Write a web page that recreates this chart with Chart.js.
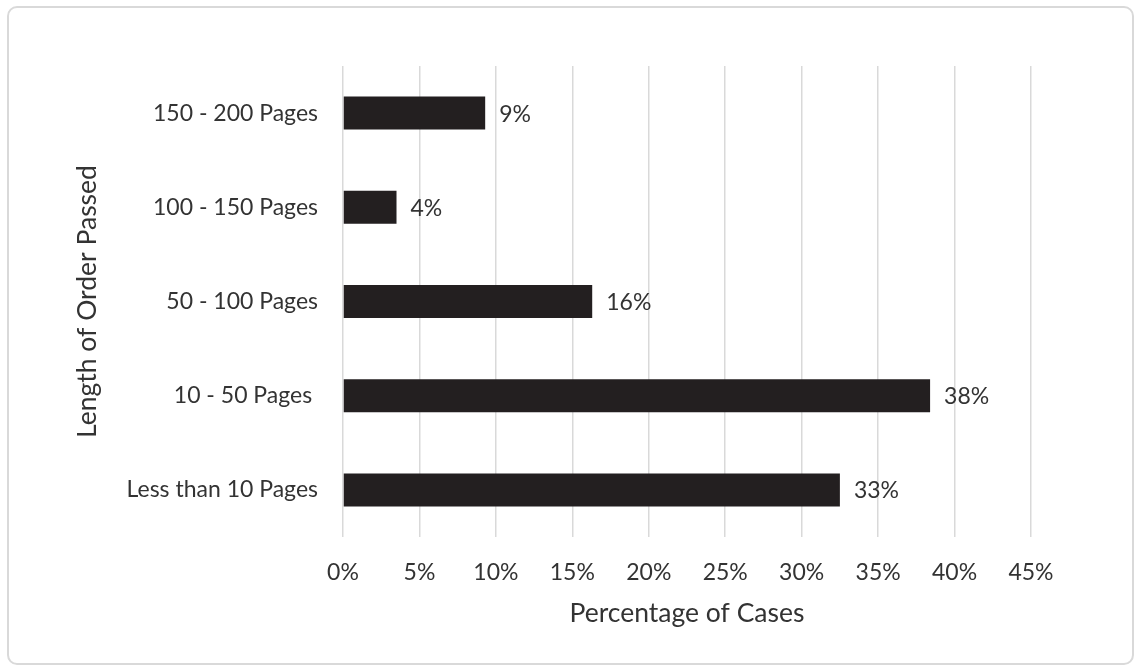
<!DOCTYPE html>
<html>
<head>
<meta charset="utf-8">
<script src="https://cdn.jsdelivr.net/npm/chart.js@4"></script>
<style>
  html, body { margin: 0; padding: 0; background: #fff; }
  #wrap { position: relative; width: 1140px; height: 671px; }
  #frame {
    position: absolute; left: 7px; top: 6px; width: 1123px; height: 655px;
    border: 2px solid #d9d9d9; border-radius: 10px; pointer-events: none;
  }
  canvas { position: absolute; left: 0; top: 0; }
</style>
</head>
<body>
<div id="wrap">
  <canvas id="chart" width="1140" height="671"></canvas>
  <div id="frame"></div>
</div>
<script>
const categories = ['150 - 200 Pages', '100 - 150 Pages', '50 - 100 Pages', '10 - 50 Pages ', 'Less than 10 Pages'];
const shares = [9.3, 3.5, 16.3, 38.4, 32.5];
const xTicks = [0, 5, 10, 15, 20, 25, 30, 35, 40, 45];

const textColor = '#333333';
const fontFamily = 'Lato, "Open Sans", sans-serif';

// value labels to the right of each bar
const barLabels = {
  id: 'barLabels',
  afterDatasetsDraw(chart) {
    const ctx = chart.ctx;
    const meta = chart.getDatasetMeta(0);
    ctx.save();
    ctx.font = '23px ' + fontFamily;
    ctx.fillStyle = textColor;
    ctx.textAlign = 'left';
    ctx.textBaseline = 'middle';
    meta.data.forEach((bar, i) => {
      ctx.fillText(Math.round(shares[i]) + '%', bar.x + 14, bar.y + 1);
    });
    ctx.restore();
  }
};

new Chart(document.getElementById('chart').getContext('2d'), {
  type: 'bar',
  data: {
    labels: categories,
    datasets: [{
      data: shares,
      backgroundColor: '#231f20',
      barPercentage: 0.35,
      categoryPercentage: 1
    }]
  },
  options: {
    indexAxis: 'y',
    responsive: false,
    animation: false,
    layout: { padding: { top: 66, right: 109, bottom: 0, left: 0 } },
    plugins: { legend: { display: false }, tooltip: { enabled: false } },
    scales: {
      x: {
        min: 0,
        max: 45,
        afterFit: (scale) => { scale.height = 134; },
        afterBuildTicks: (scale) => { scale.ticks = xTicks.map(v => ({ value: v })); },
        grid: { color: '#d9d9d9', lineWidth: 1.5, drawTicks: false },
        border: { display: false },
        ticks: {
          padding: 22,
          color: textColor,
          font: { family: fontFamily, size: 23 },
          callback: (v) => v + '%'
        },
        title: {
          display: true,
          text: 'Percentage of Cases',
          color: textColor,
          font: { family: fontFamily, size: 26.5 },
          padding: { top: 0, bottom: 42 }
        }
      },
      y: {
        afterFit: (scale) => { scale.width = 343; },
        grid: { display: false, drawTicks: false },
        border: { display: false },
        ticks: {
          padding: 25,
          color: textColor,
          font: { family: fontFamily, size: 23 }
        },
        title: {
          display: true,
          text: 'Length of Order Passed',
          color: textColor,
          font: { family: fontFamily, size: 26.5 },
          padding: { top: 72, bottom: 0 }
        }
      }
    }
  },
  plugins: [barLabels]
});
</script>
</body>
</html>
